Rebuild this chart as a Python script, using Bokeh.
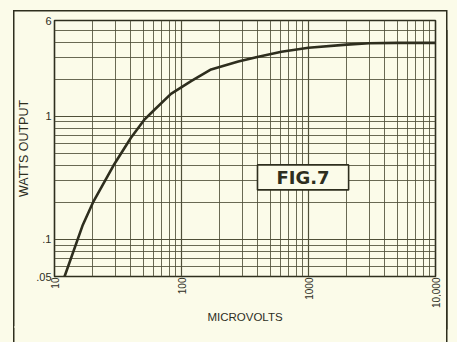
from bokeh.plotting import figure
from bokeh.models import FixedTicker, Label
from bokeh.embed import file_html
from bokeh.resources import INLINE

# ---- data ----
microvolts = [12, 16.6, 20.3, 29.2, 40, 50.6, 60.7, 82.6, 119, 171, 280, 403, 612, 1000, 2000, 3000, 5000, 10000]
watts = [0.05, 0.129, 0.204, 0.40, 0.67, 0.93, 1.12, 1.52, 1.93, 2.40, 2.79, 3.05, 3.34, 3.60, 3.82, 3.92, 3.95, 3.95]

x_major = [10, 100, 1000, 10000]
x_minor = [20, 30, 40, 50, 60, 70, 80, 90, 200, 300, 400, 500, 600, 700, 800, 900,
           2000, 3000, 4000, 5000, 6000, 7000, 8000, 9000]
x_labels = {10: "10", 100: "100", 1000: "1000", 10000: "10,000"}

y_major = [0.05, 0.1, 1, 6]
y_minor = [0.06, 0.07, 0.08, 0.09, 0.2, 0.3, 0.4, 0.5, 0.6, 0.7, 0.8, 0.9, 2, 3, 4, 5]
y_labels = {0.05: ".05", 0.1: ".1", 1: "1", 6: "6"}

x_title = "MICROVOLTS"
y_title = "WATTS OUTPUT"
fig_label = "FIG.7"
fig_label_pos = (906, 0.319)

BG = "#fbfbe9"
INK = "#2e2e1e"
GRID = "#4f4f38"
FONT = "Liberation Sans"

p = figure(width=441, height=326, x_axis_type="log", y_axis_type="log",
           x_range=(10, 10000), y_range=(0.05, 6),
           output_backend="svg", toolbar_location=None,
           min_border_left=54, min_border_right=6, min_border_top=20, min_border_bottom=30,
           background_fill_color=BG, border_fill_color=BG, border_fill_alpha=0)

# printed outer frame (left, top, right edges; bottom cut off) + cream paper around
inset = (f"inset 13px 0 0 0 {BG}, inset 0 10px 0 0 {BG}, "
         f"inset 14.5px 0 0 0 {INK}, inset 0 11.5px 0 0 {INK}")
outer = (f"9.75px 6.75px 0 -4.75px {BG}, 9.75px 20.75px 0 -4.75px {BG}, "
         f"9.75px 6.75px 0 -3.25px {INK}, 9.75px 26.75px 0 -3.25px {INK}, "
         f"0 0 0 40px {BG}")
p.styles = {"background-color": BG, "box-shadow": inset + ", " + outer}

p.outline_line_color = INK
p.outline_line_width = 1.6

p.xaxis.ticker = FixedTicker(ticks=x_major, minor_ticks=x_minor)
p.yaxis.ticker = FixedTicker(ticks=y_major, minor_ticks=y_minor)
p.xaxis.major_label_overrides = x_labels
p.yaxis.major_label_overrides = y_labels

for ax in (p.xaxis[0], p.yaxis[0]):
    ax.axis_line_color = None
    ax.major_tick_line_color = None
    ax.minor_tick_line_color = None
    ax.major_tick_out = 0
    ax.major_tick_in = 0
    ax.minor_tick_out = 0
    ax.minor_tick_in = 0
    ax.major_label_text_font = FONT
    ax.major_label_text_color = INK
    ax.axis_label_text_font = FONT
    ax.axis_label_text_font_style = "normal"
    ax.axis_label_text_color = INK

p.xaxis.major_label_orientation = 1.5707963
p.xaxis.major_label_text_font_size = "10px"
p.xaxis.major_label_standoff = 1
p.xaxis.axis_label = x_title
p.xaxis.axis_label_text_font_size = "11.5px"
p.xaxis.axis_label_standoff = 0
p.yaxis.major_label_text_font_size = "11px"
p.yaxis.major_label_standoff = 3
p.yaxis.axis_label = y_title
p.yaxis.axis_label_text_font_size = "12.5px"
p.yaxis.axis_label_standoff = 2

for g in (p.xgrid[0], p.ygrid[0]):
    g.grid_line_color = GRID
    g.grid_line_width = 1.2
    g.minor_grid_line_color = GRID
    g.minor_grid_line_width = 1
    g.minor_grid_line_alpha = 0.85

p.line(microvolts, watts, line_color=INK, line_width=2.6)

lbl = Label(x=fig_label_pos[0], y=fig_label_pos[1], text=fig_label,
            text_align="center", text_baseline="middle",
            text_font="DejaVu Sans", text_font_style="bold",
            text_font_size="18px", text_color=INK,
            background_fill_color=BG, background_fill_alpha=1.0,
            border_line_color=INK, border_line_width=1.6,
            padding=(19, 2))
p.add_layout(lbl)

open("out.html", "w").write(file_html(p, INLINE))
